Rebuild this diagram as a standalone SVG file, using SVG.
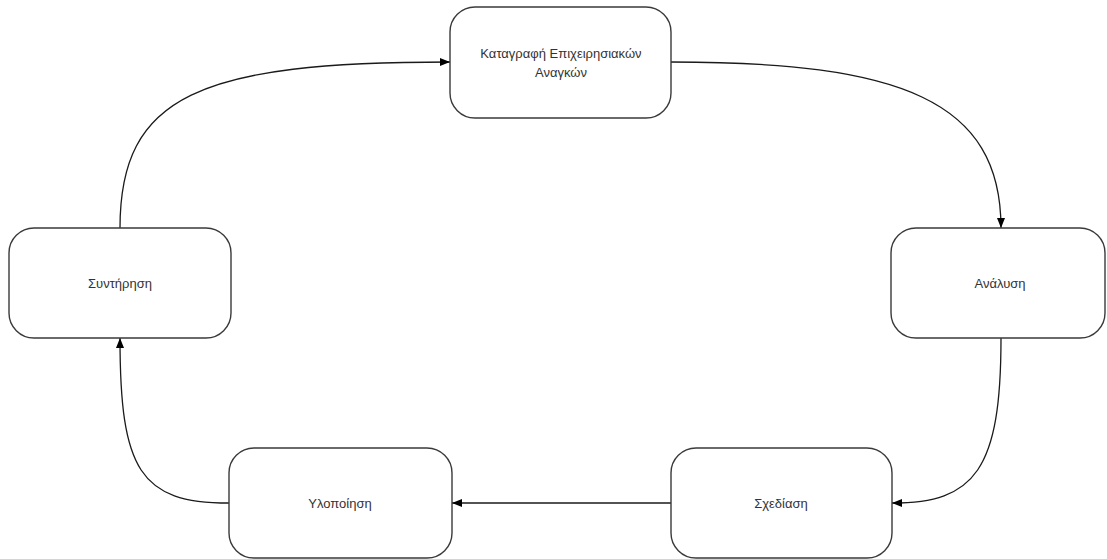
<svg xmlns="http://www.w3.org/2000/svg" width="1107" height="559" viewBox="0 0 1107 559">
  <style>
    .box { fill: #ffffff; stroke: #3a3a3a; stroke-width: 1.4; }
    .lbl { font-family: "Liberation Sans", Arial, sans-serif; font-size: 13px; fill: #333333; text-anchor: middle; dominant-baseline: central; }
    .edge { fill: none; stroke: #1a1a1a; stroke-width: 1.3; marker-end: url(#arrow); }
  </style>
  <defs>
    <marker id="arrow" viewBox="0 0 10 8" refX="10" refY="4" markerWidth="10" markerHeight="8" markerUnits="userSpaceOnUse" orient="auto">
      <path d="M0,0 L10,4 L0,8 Z" fill="#000000"/>
    </marker>
  </defs>
  <rect width="1107" height="559" fill="#ffffff"/>

  <g id="connectors">
    <path class="edge" d="M671,62 C900,62 1001,100 1001,228"/>
    <path class="edge" d="M1001,338 C1001,470 975,503 892,503"/>
    <path class="edge" d="M671,503 L452,503"/>
    <path class="edge" d="M229,503 C140,503 120,470 120,338"/>
    <path class="edge" d="M120,228 C120,95 200,62 450,62"/>
  </g>

  <g id="node-katagrafi">
    <rect class="box" x="450" y="7" width="221" height="111" rx="25" ry="25"/>
    <text class="lbl" x="561" y="53">Καταγραφή Επιχειρησιακών</text>
    <text class="lbl" x="561" y="72">Αναγκών</text>
  </g>

  <g id="node-analysi">
    <rect class="box" x="891" y="228" width="214" height="110" rx="25" ry="25"/>
    <text class="lbl" x="1000" y="283">Ανάλυση</text>
  </g>

  <g id="node-schediasi">
    <rect class="box" x="671" y="448" width="221" height="110" rx="25" ry="25"/>
    <text class="lbl" x="781" y="503">Σχεδίαση</text>
  </g>

  <g id="node-ylopoiisi">
    <rect class="box" x="229" y="448" width="223" height="110" rx="25" ry="25"/>
    <text class="lbl" x="340" y="503">Υλοποίηση</text>
  </g>

  <g id="node-syntirisi">
    <rect class="box" x="9" y="228" width="222" height="110" rx="25" ry="25"/>
    <text class="lbl" x="120" y="283">Συντήρηση</text>
  </g>
</svg>
